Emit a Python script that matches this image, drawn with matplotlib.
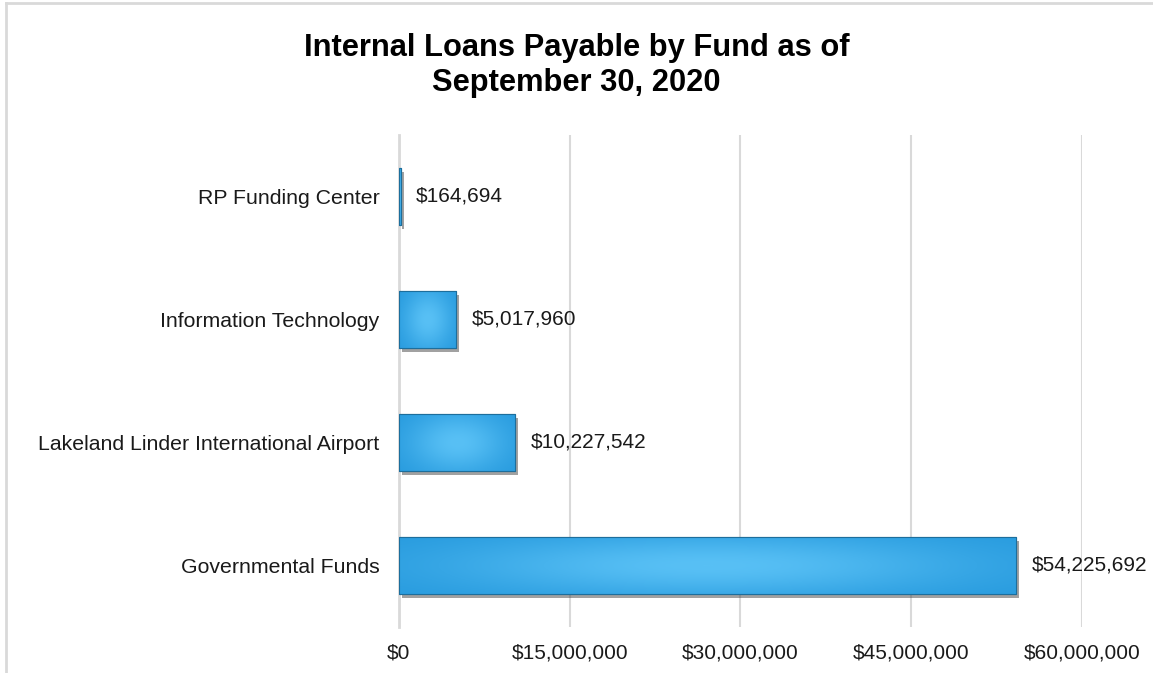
import numpy as np
import matplotlib.pyplot as plt
import matplotlib.patheffects as pe
from matplotlib.colors import LinearSegmentedColormap
from matplotlib.lines import Line2D

# Data
funds = ["Governmental Funds", "Lakeland Linder International Airport",
         "Information Technology", "RP Funding Center"]
loans = [54225692, 10227542, 5017960, 164694]
ticks = [0, 15000000, 30000000, 45000000, 60000000]

plt.rcParams['font.family'] = ['Liberation Sans', 'DejaVu Sans']

fig = plt.figure(figsize=(11.53, 6.73), dpi=100)
ax = fig.add_axes([0.346, 0.0684, 0.5924, 0.731])

# outer chart border (only top and left visible in the crop)
fig.add_artist(Line2D([0.0048, 1.0], [0.9955, 0.9955], transform=fig.transFigure,
                      color="#d9d9d9", lw=2))
fig.add_artist(Line2D([0.0048, 0.0048], [0.0, 0.9955], transform=fig.transFigure,
                      color="#d9d9d9", lw=2))

y = np.arange(len(funds))
bars = ax.barh(y, loans, height=0.46, color="#3aaeea", edgecolor="#1d6e9c",
               linewidth=0.8, zorder=3,
               path_effects=[pe.SimplePatchShadow(offset=(2, -3), shadow_rgbFace="#444444",
                                                  alpha=0.5), pe.Normal()])

# soft radial-ish gradient on each bar
cmap = LinearSegmentedColormap.from_list("blu", ["#2599dd", "#58c0f5"])
gx, gy = np.meshgrid(np.linspace(-1, 1, 200), np.linspace(-1, 1, 60))
glow = np.exp(-(gx ** 2) / 0.7 - (gy ** 2) / 1.2)
for b in bars:
    x0, y0, w, h = b.get_x(), b.get_y(), b.get_width(), b.get_height()
    im = ax.imshow(glow, cmap=cmap, aspect="auto", vmin=0, vmax=1,
                   extent=[x0, x0 + w, y0, y0 + h], zorder=3.5,
                   interpolation="bicubic")
    im.set_clip_path(b)
    ax.add_patch(plt.Rectangle((x0, y0), w, h, fill=False, edgecolor="#1d6e9c",
                               linewidth=0.8, zorder=4))

for v, yy in zip(loans, y):
    ax.annotate("${:,}".format(v), (v, yy), xytext=(11, 0), textcoords="offset points",
                va="center", ha="left", fontsize=15, color="#1a1a1a")

ax.set_xlim(0, 60000000)
ax.set_ylim(-0.5, len(funds) - 0.5)
ax.set_xticks(ticks)
ax.set_xticklabels(["${:,}".format(t) for t in ticks], fontsize=15, color="#1a1a1a")
ax.set_yticks(y)
ax.set_yticklabels(funds, fontsize=15.3, color="#1a1a1a")
ax.tick_params(axis="both", length=0)
ax.tick_params(axis="x", pad=12)
ax.tick_params(axis="y", pad=14)

ax.grid(axis="x", color="#d9d9d9", lw=1.5, zorder=0)
for s in ["top", "right", "bottom"]:
    ax.spines[s].set_visible(False)
ax.spines["left"].set_color("#d9d9d9")
ax.spines["left"].set_linewidth(2)
ax.spines["left"].set_zorder(2)

fig.text(0.5, 0.9025, "Internal Loans Payable by Fund as of\nSeptember 30, 2020",
         ha="center", va="center", fontsize=22.2, fontweight="bold",
         linespacing=1.2, color="#000000")

fig.savefig("out.png", dpi=100)
